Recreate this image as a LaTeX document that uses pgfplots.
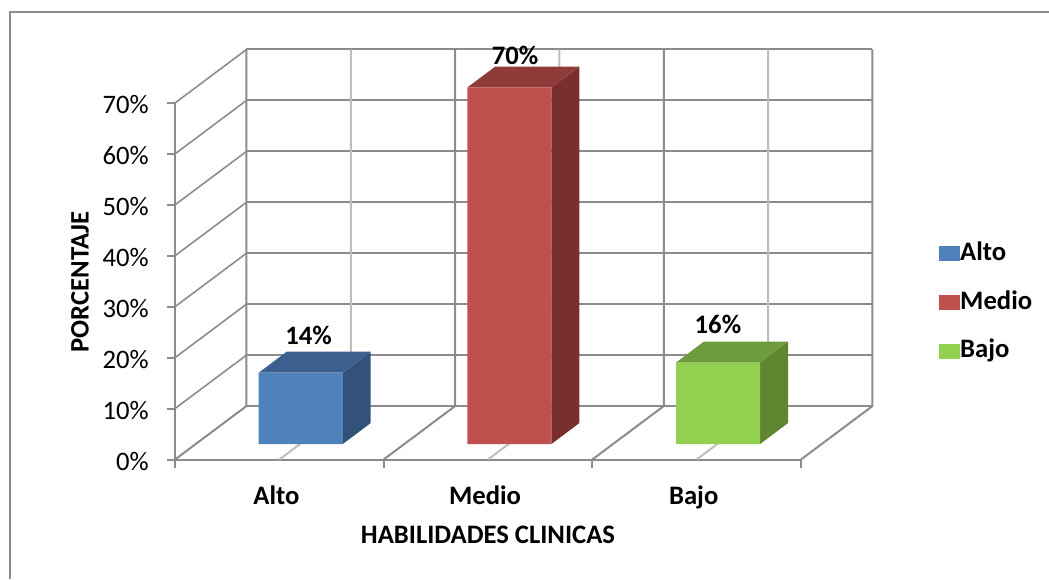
\documentclass[border=0pt]{standalone}
\usepackage{fontspec}
\setmainfont{Carlito}
\usepackage{pgfplots}
\pgfplotsset{compat=1.18}

\definecolor{wallgray}{HTML}{8C8C8C}
\definecolor{gridlight}{HTML}{BEBEBE}
\definecolor{altoF}{HTML}{4F81BD}
\definecolor{altoT}{HTML}{3B6090}
\definecolor{altoS}{HTML}{32527B}
\definecolor{medioF}{HTML}{C0504D}
\definecolor{medioT}{HTML}{8E3B39}
\definecolor{medioS}{HTML}{7A2F2E}
\definecolor{bajoF}{HTML}{92D050}
\definecolor{bajoT}{HTML}{6E9B3C}
\definecolor{bajoS}{HTML}{5F8531}

% One box of the oblique column chart: left edge, value, three face colours.
% The front face stands 3.04 units up the floor and is 0.403 categories wide;
% the depth of a box is (0.134, 4.12) in axis units.
\newcommand{\threedbar}[5]{%
  \pgfmathsetmacro{\xa}{#1}%
  \pgfmathsetmacro{\xb}{#1+0.403}%
  \pgfmathsetmacro{\xc}{#1+0.403+0.134}%
  \pgfmathsetmacro{\xd}{#1+0.134}%
  \pgfmathsetmacro{\ya}{3.04}%
  \pgfmathsetmacro{\yb}{3.04+#2}%
  \pgfmathsetmacro{\yc}{3.04+4.12}%
  \pgfmathsetmacro{\yd}{3.04+#2+4.12}%
  \edef\barcmd{%
    \noexpand\addplot[fill=#5,draw=none,forget plot] coordinates
      {(\xb,\ya) (\xc,\yc) (\xc,\yd) (\xb,\yb) (\xb,\ya)};
    \noexpand\addplot[fill=#4,draw=none,forget plot] coordinates
      {(\xa,\yb) (\xb,\yb) (\xc,\yd) (\xd,\yd) (\xa,\yb)};
    \noexpand\addplot[fill=#3,draw=none] coordinates
      {(\xa,\ya) (\xb,\ya) (\xb,\yb) (\xa,\yb) (\xa,\ya)};
  }%
  \barcmd
}

\begin{document}
\begin{tikzpicture}[x=0.75pt,y=0.75pt]
% page area and chart frame, in pixel-sized units from the lower left
\useasboundingbox (0,0) rectangle (1049,579);
\draw[wallgray,line width=1.5pt] (9.5,0) -- (9.5,566.5) -- (1049,566.5);

\begin{axis}[
  at={(131.25pt,89.625pt)}, anchor=south west,
  width=469.5pt, height=267.4pt, scale only axis,
  xmin=0, xmax=3, ymin=0, ymax=70,
  clip=false,
  axis x line*=bottom, axis y line*=left,
  axis line style={-,wallgray,line width=1.5pt},
  tick align=outside,
  xtick={0.5,1.5,2.5},
  xticklabels={\textbf{Alto},\textbf{Medio},\textbf{Bajo}},
  minor xtick={0,1,2,3},
  ytick={0,10,20,30,40,50,60,70},
  yticklabel={\pgfmathprintnumber{\tick}\%},
  major tick length=6pt,
  minor tick length=6.5pt,
  major x tick style={draw=none},
  minor x tick style={wallgray,line width=1.5pt},
  major y tick style={wallgray,line width=1.5pt},
  /pgf/number format/assume math mode=true,
  tick label style={font=\fontsize{20}{20}\selectfont},
  yticklabel style={inner sep=0pt,xshift=-13.5pt,yshift=-1.2pt},
  xticklabel style={anchor=base,inner sep=0pt,yshift=-27.5pt,xshift=-2.2pt},
  every axis y label/.style={at={(axis description cs:-0.1518,0.498)},rotate=90,anchor=center},
  every axis x label/.style={at={(axis description cs:0.5,-0.2118)},anchor=center},
  ylabel={\fontsize{20}{20}\selectfont\bfseries PORCENTAJE},
  xlabel={\fontsize{20}{20}\selectfont\bfseries HABILIDADES CLINICAS},
  legend style={
    at={(axis description cs:1.2204,0.6)}, anchor=north west,
    draw=none, fill=none, inner sep=0pt,
    font=\fontsize{20}{20}\selectfont\bfseries,
    row sep=25pt,
    /tikz/column 2/.style={column sep=0pt},
    nodes={inner sep=0pt,text height=11pt,text depth=0pt},
  },
  legend cell align=left,
  legend image code/.code={%
    \path (0pt,-6pt) rectangle (15.75pt,5.25pt);
    \fill[#1] (0pt,-6pt) rectangle (11.25pt,5.25pt);},
]
% back wall: horizontal grid lines and bold category dividers
\addplot[wallgray,line width=1.5pt,forget plot] coordinates {(0.3426,10.5) (3.3426,10.5)};
\addplot[wallgray,line width=1.5pt,forget plot] coordinates {(0.3426,20.5) (3.3426,20.5)};
\addplot[wallgray,line width=1.5pt,forget plot] coordinates {(0.3426,30.5) (3.3426,30.5)};
\addplot[wallgray,line width=1.5pt,forget plot] coordinates {(0.3426,40.5) (3.3426,40.5)};
\addplot[wallgray,line width=1.5pt,forget plot] coordinates {(0.3426,50.5) (3.3426,50.5)};
\addplot[wallgray,line width=1.5pt,forget plot] coordinates {(0.3426,60.5) (3.3426,60.5)};
\addplot[wallgray,line width=1.5pt,forget plot] coordinates {(0.3426,70.5) (3.3426,70.5)};
\addplot[wallgray,line width=1.5pt,forget plot] coordinates {(0.3426,80.5) (3.3426,80.5)};
% light centre lines on the wall and the floor
\addplot[gridlight,line width=1.5pt,forget plot] coordinates {(0.5,0) (0.8426,10.5) (0.8426,80.5)};
\addplot[gridlight,line width=1.5pt,forget plot] coordinates {(1.5,0) (1.8426,10.5) (1.8426,80.5)};
\addplot[gridlight,line width=1.5pt,forget plot] coordinates {(2.5,0) (2.8426,10.5) (2.8426,80.5)};
% category dividers running over the floor and up the wall
\addplot[wallgray,line width=1.5pt,forget plot] coordinates {(0,0) (0.3426,10.5) (0.3426,80.5)};
\addplot[wallgray,line width=1.5pt,forget plot] coordinates {(1,0) (1.3426,10.5) (1.3426,80.5)};
\addplot[wallgray,line width=1.5pt,forget plot] coordinates {(2,0) (2.3426,10.5) (2.3426,80.5)};
\addplot[wallgray,line width=1.5pt,forget plot] coordinates {(3,0) (3.3426,10.5) (3.3426,80.5)};
% side wall lines
\addplot[wallgray,line width=1.2pt,forget plot] coordinates {(0,10) (0.3426,20.5)};
\addplot[wallgray,line width=1.2pt,forget plot] coordinates {(0,20) (0.3426,30.5)};
\addplot[wallgray,line width=1.2pt,forget plot] coordinates {(0,30) (0.3426,40.5)};
\addplot[wallgray,line width=1.2pt,forget plot] coordinates {(0,40) (0.3426,50.5)};
\addplot[wallgray,line width=1.2pt,forget plot] coordinates {(0,50) (0.3426,60.5)};
\addplot[wallgray,line width=1.2pt,forget plot] coordinates {(0,60) (0.3426,70.5)};
\addplot[wallgray,line width=1.2pt,forget plot] coordinates {(0,70) (0.3426,80.5)};

% the three columns
\threedbar{0.401}{14}{altoF}{altoT}{altoS}
\threedbar{1.401}{70}{medioF}{medioT}{medioS}
\threedbar{2.401}{16}{bajoF}{bajoT}{bajoS}

\legend{Alto,Medio,Bajo}

\node[font=\fontsize{20}{20}\selectfont\bfseries] at (axis cs:0.64,24.4) {14\%};
\node[font=\fontsize{20}{20}\selectfont\bfseries] at (axis cs:1.63,79.4) {70\%};
\node[font=\fontsize{20}{20}\selectfont\bfseries] at (axis cs:2.602,26.5) {16\%};
\end{axis}
\end{tikzpicture}
\end{document}
